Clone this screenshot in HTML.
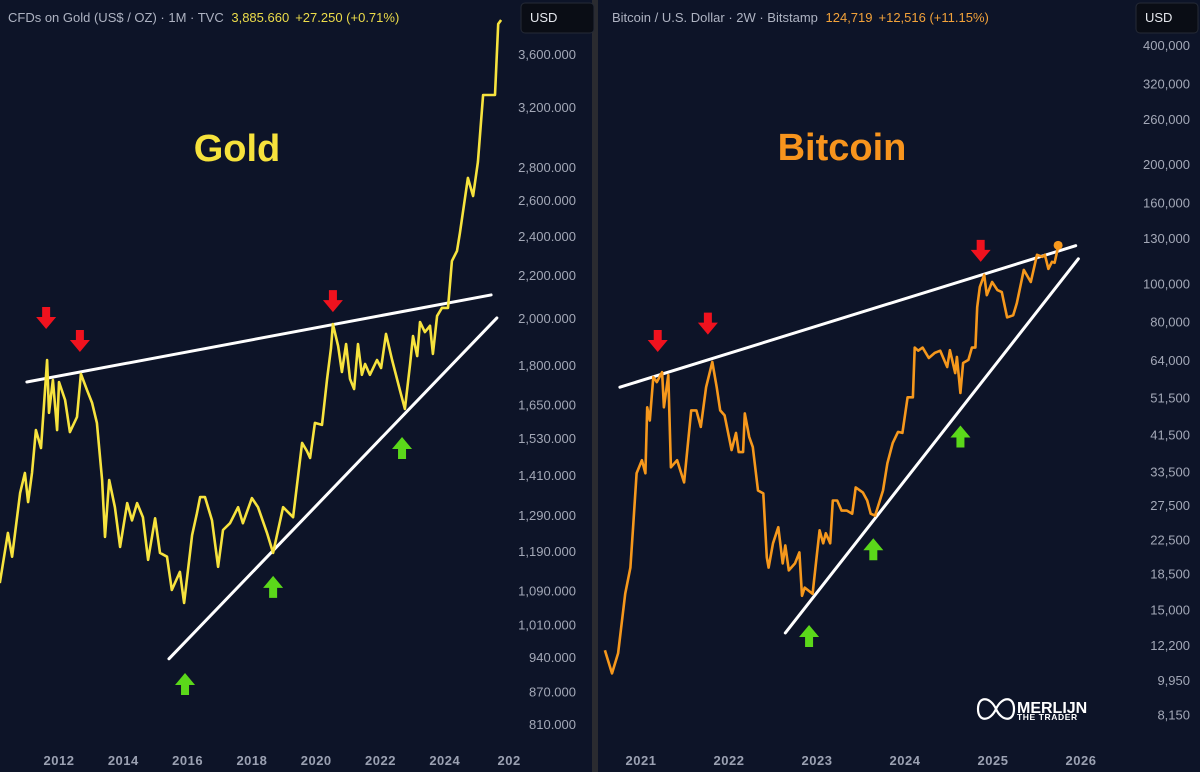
<!DOCTYPE html>
<html><head><meta charset="utf-8">
<style>
html,body{margin:0;padding:0;background:#0d1428;}
body{width:1200px;height:772px;overflow:hidden;font-family:"Liberation Sans",sans-serif;}
svg{display:block}
</style></head>
<body>
<svg id="c" width="1200" height="772" xmlns="http://www.w3.org/2000/svg">
<rect x="0" y="0" width="1200" height="772" fill="#0d1428"/>
<rect x="592" y="0" width="6" height="772" fill="#2a2b30"/>
<g id="gold"></g>
<g id="btc"></g>
<text x="8" y="22" font-size="13" fill="#aeb3c2">CFDs on Gold (US$ / OZ) · 1M · TVC <tspan fill="#ecdc4a" dx="4">3,885.660</tspan><tspan fill="#ecdc4a" dx="6">+27.250 (+0.71%)</tspan></text>
<rect x="521" y="3" width="73" height="30" rx="4" fill="#0a0d15" stroke="#252a36"/>
<text x="530" y="22" font-size="13" fill="#e6e8ee">USD</text>
<text x="612" y="22" font-size="13" fill="#aeb3c2">Bitcoin / U.S. Dollar · 2W · Bitstamp <tspan fill="#f2a23a" dx="4">124,719</tspan><tspan fill="#f2a23a" dx="6">+12,516 (+11.15%)</tspan></text>
<rect x="1136" y="3" width="62" height="30" rx="4" fill="#0a0d15" stroke="#252a36"/>
<text x="1145" y="22" font-size="13" fill="#e6e8ee">USD</text>
<text x="237" y="161" font-size="38" font-weight="bold" fill="#f6e23c" text-anchor="middle">Gold</text>
<text x="842" y="160" font-size="38" font-weight="bold" fill="#f7941d" text-anchor="middle">Bitcoin</text>
<g>
<path d="M978 709 C978 696 990 696 996 709 C1002 722 1014 722 1014 709 C1014 696 1002 696 996 709 C990 722 978 722 978 709Z" fill="none" stroke="#fff" stroke-width="2.2"/>
<text x="1017" y="713" font-size="16" font-weight="bold" fill="#fff">MERLIJN</text>
<text x="1017" y="720" font-size="8.5" font-weight="bold" fill="#fff" letter-spacing="0.6">THE TRADER</text>
</g>
</svg>
<script>
// ---- GOLD data ----
const goldYears=[2010.16,2010.41,2010.54,2010.79,2010.94,2011.04,2011.16,2011.28,2011.44,2011.63,2011.69,2011.81,2011.94,2012.00,2012.19,2012.34,2012.56,2012.68,2012.87,2013.03,2013.18,2013.34,2013.43,2013.56,2013.74,2013.90,2014.12,2014.27,2014.43,2014.61,2014.77,2014.99,2015.14,2015.36,2015.51,2015.76,2015.89,2016.14,2016.29,2016.39,2016.54,2016.76,2016.95,2017.10,2017.32,2017.57,2017.72,2018.00,2018.19,2018.47,2018.66,2018.97,2019.28,2019.56,2019.71,2019.81,2019.96,2020.18,2020.34,2020.46,2020.52,2020.68,2020.80,2020.93,2021.05,2021.18,2021.30,2021.42,2021.52,2021.67,2021.89,2022.02,2022.17,2022.36,2022.61,2022.76,2022.92,2023.01,2023.14,2023.23,2023.38,2023.54,2023.63,2023.76,2023.91,2024.10,2024.22,2024.38,2024.47,2024.72,2024.88,2025.03,2025.19,2025.56,2025.66,2025.75];
const goldPrices=[1108,1239,1175,1354,1416,1327,1416,1558,1497,1821,1619,1742,1558,1734,1666,1551,1604,1766,1703,1655,1583,1394,1228,1394,1312,1201,1324,1274,1324,1283,1167,1280,1185,1175,1091,1136,1060,1233,1294,1342,1342,1274,1149,1247,1266,1312,1266,1339,1312,1239,1185,1312,1283,1514,1487,1464,1583,1576,1746,1870,1973,1879,1773,1887,1746,1707,1887,1762,1805,1762,1821,1789,1930,1821,1700,1633,1805,1921,1837,1982,1938,1965,1846,2009,2045,2045,2270,2322,2416,2732,2624,2830,3286,3286,3849,3883];
const goldTicks=[3600,3200,2800,2600,2400,2200,2000,1800,1650,1530,1410,1290,1190,1090,1010,940,870,810];
const goldTickLabels=["3,600.000","3,200.000","2,800.000","2,600.000","2,400.000","2,200.000","2,000.000","1,800.000","1,650.000","1,530.000","1,410.000","1,290.000","1,190.000","1,090.000","1,010.000","940.000","870.000","810.000"];
const goldYearTicks=[2012,2014,2016,2018,2020,2022,2024,2026];
const goldYearLabels=["2012","2014","2016","2018","2020","2022","2024","202"];
const goldTrendUpper=[[2011.0,1734],[2025.44,2105]];
const goldTrendLower=[[2015.42,936],[2025.62,2000]];
const goldRedArrows=[[2011.60,1951],[2012.65,1854],[2020.52,2026]];
const goldGreenArrows=[[2015.92,907],[2018.66,1126],[2022.67,1534]];
// ---- BTC data ----
const btcYears=[2020.59,2020.67,2020.74,2020.82,2020.88,2020.91,2020.95,2021.01,2021.05,2021.07,2021.10,2021.14,2021.18,2021.24,2021.26,2021.31,2021.34,2021.41,2021.49,2021.57,2021.63,2021.68,2021.74,2021.81,2021.86,2021.90,2021.95,2022.03,2022.08,2022.11,2022.16,2022.18,2022.23,2022.27,2022.33,2022.39,2022.43,2022.45,2022.50,2022.56,2022.61,2022.64,2022.68,2022.75,2022.80,2022.83,2022.86,2022.95,2023.00,2023.03,2023.07,2023.10,2023.15,2023.18,2023.23,2023.28,2023.34,2023.40,2023.44,2023.52,2023.57,2023.61,2023.66,2023.75,2023.80,2023.86,2023.92,2023.97,2024.03,2024.09,2024.11,2024.15,2024.20,2024.27,2024.34,2024.40,2024.48,2024.51,2024.57,2024.59,2024.63,2024.66,2024.72,2024.76,2024.80,2024.82,2024.85,2024.90,2024.93,2024.99,2025.05,2025.10,2025.16,2025.23,2025.27,2025.35,2025.43,2025.50,2025.56,2025.59,2025.63,2025.67,2025.70,2025.74];
const btcPrices=[11830,10340,11620,16430,19130,24200,33120,35740,33120,48600,45010,57960,56300,59670,48600,58650,34290,35740,31410,47740,47740,43370,54640,63290,54640,47740,46370,37890,41880,37460,37460,46920,40920,38570,29960,29450,20300,19130,22040,24200,19600,21770,18820,19600,20900,16240,17030,16430,20770,23770,22040,23370,22040,28270,28270,26650,26650,26180,30500,29630,28270,26180,25880,29960,35110,39480,42130,41880,51520,51520,68780,67560,68780,64770,66730,67560,61470,67760,59320,65170,52840,62910,64050,68780,68780,87000,97820,104990,93340,100770,96120,95000,82020,83010,89030,108080,100770,118060,116690,118060,108740,113310,112640,123730];
const btcTicks=[400000,320000,260000,200000,160000,130000,100000,80000,64000,51500,41500,33500,27500,22500,18500,15000,12200,9950,8150];
const btcTickLabels=["400,000","320,000","260,000","200,000","160,000","130,000","100,000","80,000","64,000","51,500","41,500","33,500","27,500","22,500","18,500","15,000","12,200","9,950","8,150"];
const btcYearTicks=[2021,2022,2023,2024,2025,2026];
const btcYearLabels=["2021","2022","2023","2024","2025","2026"];
const btcTrendUpper=[[2020.76,54640],[2025.94,124460]];
const btcTrendLower=[[2022.64,13080],[2025.97,115310]];
const btcRedArrows=[[2021.19,67070],[2021.76,74190],[2024.86,113310]];
const btcGreenArrows=[[2022.91,13700],[2023.64,22700],[2024.63,43720]];
const btcLast=[2025.74,124719];

const NS="http://www.w3.org/2000/svg";
function mk(parent,tag,attrs){const e=document.createElementNS(NS,tag);for(const k in attrs)e.setAttribute(k,attrs[k]);parent.appendChild(e);return e;}
// axis functions
const gx=yr=>59+(yr-2012)*32.15;
const gy=v=>54+449*Math.log(3600/v);
const bx=yr=>641+(yr-2021)*88;
const by=v=>45+171.9*Math.log(400000/v);

function drawPanel(g,xs,ys,years,prices,color,ticks,tickLabels,tickX,yrTicks,yrLabels,up,low,reds,greens,prefix){
  ticks.forEach((t,i)=>{
    const tx=mk(g,'text',{x:tickX,y:ys(t)+5,'font-size':13,fill:'#a3a8b7','text-anchor':'end'});
    
    
    tx.textContent=tickLabels[i];
  });
  yrTicks.forEach((t,i)=>{
    const tx=mk(g,'text',{x:xs(t),y:765,'font-size':13,'font-weight':'bold',fill:'#9ba1b2','text-anchor':'middle','letter-spacing':'0.5'});
    
    
    tx.textContent=yrLabels[i];
  });
  [up,low].forEach((L,i)=>{
    const l=mk(g,'line',{x1:xs(L[0][0]),y1:ys(L[0][1]),x2:xs(L[1][0]),y2:ys(L[1][1]),stroke:'#ffffff','stroke-width':3,'stroke-linecap':'round'});
    
    
  });
  const d=years.map((y,i)=>(i?'L':'M')+xs(y).toFixed(1)+' '+ys(prices[i]).toFixed(1)).join(' ');
  const p=mk(g,'path',{d:d,fill:'none',stroke:color,'stroke-width':2.6,'stroke-linejoin':'round'});
  
  
  reds.forEach(a=>{
    const x=xs(a[0]),y=ys(a[1]);
    const ar=mk(g,'path',{d:`M${x-4} ${y-22}h8v10h6l-10 12l-10-12h6z`,fill:'#f0121e'});
    
    
  });
  greens.forEach(a=>{
    const x=xs(a[0]),y=ys(a[1]);
    const ar=mk(g,'path',{d:`M${x} ${y}l10 12h-6v10h-8v-10h-6z`,fill:'#5bd81a'});
    
    
  });
}
drawPanel(document.getElementById('gold'),gx,gy,goldYears,goldPrices,'#f7e33e',goldTicks,goldTickLabels,576,goldYearTicks,goldYearLabels,goldTrendUpper,goldTrendLower,goldRedArrows,goldGreenArrows,'gold');
drawPanel(document.getElementById('btc'),bx,by,btcYears,btcPrices,'#f6981c',btcTicks,btcTickLabels,1190,btcYearTicks,btcYearLabels,btcTrendUpper,btcTrendLower,btcRedArrows,btcGreenArrows,'bitcoin');
const dot=mk(document.getElementById('btc'),'circle',{cx:bx(btcLast[0]),cy:by(btcLast[1]),r:4.5,fill:'#f6981c'});


</script>
</body></html>
